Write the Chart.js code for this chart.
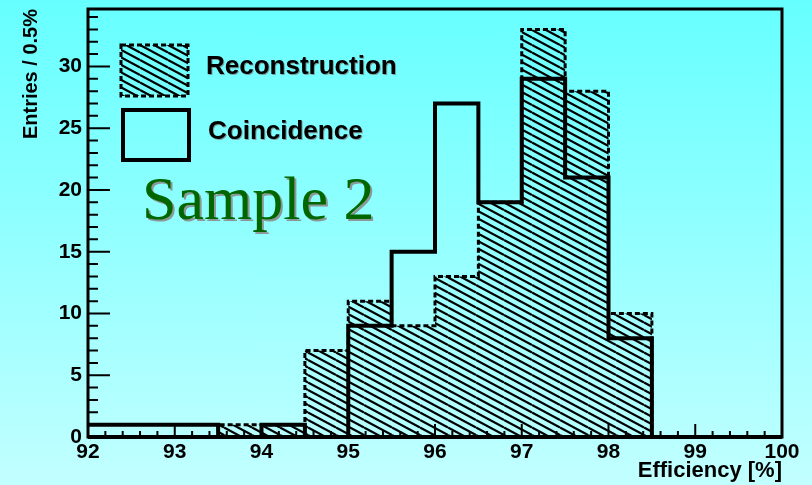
<!DOCTYPE html>
<html>
<head>
<meta charset="utf-8">
<script src="https://cdn.jsdelivr.net/npm/chart.js@4"></script>
<style>
  html, body { margin: 0; padding: 0; }
  body {
    width: 812px;
    height: 485px;
    overflow: hidden;
    background: linear-gradient(to bottom, #66ffff, #c2ffff);
  }
  canvas { display: block; }
</style>
</head>
<body>
<canvas id="effChart" width="812" height="485"></canvas>
<script>
// Efficiency distributions, 0.5% bins between 92% and 100%
const binLowEdges = [92, 92.5, 93, 93.5, 94, 94.5, 95, 95.5, 96, 96.5, 97, 97.5, 98, 98.5, 99, 99.5];
const binUpperEdge = 100;
const reconstructionCounts = [0, 0, 0, 1, 1, 7, 11, 9, 13, 19, 33, 28, 10, 0, 0, 0];
const coincidenceCounts    = [1, 1, 1, 0, 1, 0, 9, 15, 27, 19, 29, 21, 8, 0, 0, 0];
const seriesNames = ['Reconstruction', 'Coincidence'];
const yMax = 34.65;

const FONT = '"Liberation Sans", Arial, Helvetica, sans-serif';

// histogram outline as step points: one per lower edge plus the closing edge
function stepPoints(counts) {
  const pts = binLowEdges.map((x, i) => ({ x: x, y: counts[i] }));
  pts.push({ x: binUpperEdge, y: counts[counts.length - 1] });
  return pts;
}

// ROOT-like "\\\\" hatch
function makeHatch() {
  const w = 28, h = 15;
  const c = document.createElement('canvas');
  c.width = w;
  c.height = h;
  const g = c.getContext('2d');
  g.strokeStyle = '#000';
  g.lineWidth = 2.2;
  for (let off = -h; off <= h; off += h / 2) {
    g.beginPath();
    g.moveTo(0, off);
    g.lineTo(w, off + h);
    g.stroke();
  }
  return g.createPattern(c, 'repeat');
}

const canvas = document.getElementById('effChart');
const hatch = makeHatch();

// frame plus inward ticks, ROOT style
const frameAndTicks = {
  id: 'frameAndTicks',
  afterDatasetsDraw(chart) {
    const { ctx, chartArea: a, scales: { x, y } } = chart;
    ctx.save();
    ctx.strokeStyle = '#000';
    ctx.lineWidth = 3;
    ctx.strokeRect(a.left, a.top, a.right - a.left, a.bottom - a.top);
    ctx.lineWidth = 4;
    ctx.beginPath();
    ctx.moveTo(a.left, a.bottom);
    ctx.lineTo(a.right, a.bottom);
    ctx.stroke();

    ctx.lineWidth = 2;
    ctx.beginPath();
    for (let i = 0; i <= Math.floor(yMax); i++) {
      const py = y.getPixelForValue(i);
      const len = i % 5 === 0 ? 22 : 10;
      ctx.moveTo(a.left, py);
      ctx.lineTo(a.left + len, py);
    }
    for (let i = 0; i <= 40; i++) {
      const px = x.getPixelForValue(92 + i * 0.2);
      const len = i % 5 === 0 ? 13 : 6;
      ctx.moveTo(px, a.bottom);
      ctx.lineTo(px, a.bottom - len);
    }
    ctx.stroke();
    ctx.restore();
  }
};

// legend boxes and the sample caption
const legendAndLabel = {
  id: 'legendAndLabel',
  afterDraw(chart) {
    const { ctx, chartArea: a } = chart;
    const bx = a.left + 33, bw = 67, bh = 51;
    ctx.save();

    ctx.fillStyle = hatch;
    ctx.fillRect(bx, 45, bw, bh);
    ctx.strokeStyle = '#000';
    ctx.lineWidth = 3;
    ctx.setLineDash([5, 3]);
    ctx.strokeRect(bx, 45, bw, bh);
    ctx.setLineDash([]);
    ctx.lineWidth = 4;
    ctx.strokeRect(bx + 2, 110, bw - 1, bh - 1);

    ctx.font = 'bold 26px ' + FONT;
    ctx.textBaseline = 'middle';
    ctx.textAlign = 'left';
    ctx.shadowColor = 'rgba(120,120,120,0.7)';
    ctx.shadowOffsetX = 1;
    ctx.shadowOffsetY = 1;
    ctx.fillStyle = '#000';
    ctx.fillText(seriesNames[0], 206, 67);
    ctx.fillText(seriesNames[1], 208, 132);

    ctx.font = '62px "Liberation Serif", "Times New Roman", serif';
    ctx.textBaseline = 'alphabetic';
    ctx.shadowColor = 'rgba(140,140,140,0.9)';
    ctx.shadowOffsetX = 2;
    ctx.shadowOffsetY = 2;
    ctx.fillStyle = '#006600';
    ctx.fillText('Sample 2', 142, 219);
    ctx.restore();
  }
};

new Chart(canvas, {
  type: 'line',
  data: {
    datasets: [
      {
        label: seriesNames[1],
        data: stepPoints(coincidenceCounts),
        stepped: true,
        borderColor: '#000',
        borderWidth: 4,
        fill: false,
        pointRadius: 0
      },
      {
        label: seriesNames[0],
        data: stepPoints(reconstructionCounts),
        stepped: true,
        borderColor: '#000',
        borderWidth: 3,
        borderDash: [5, 3],
        backgroundColor: hatch,
        fill: 'origin',
        pointRadius: 0
      }
    ]
  },
  options: {
    responsive: false,
    animation: false,
    devicePixelRatio: 1,
    layout: { padding: { top: 9, right: 30, left: 0, bottom: 0 } },
    plugins: {
      legend: { display: false },
      tooltip: { enabled: false }
    },
    scales: {
      x: {
        type: 'linear',
        min: 92,
        max: 100,
        grid: { display: false, drawTicks: false },
        border: { display: false },
        ticks: {
          stepSize: 1,
          autoSkip: false,
          maxRotation: 0,
          includeBounds: false,
          padding: 3,
          color: '#000',
          font: { family: FONT, size: 21, weight: 'bold' }
        },
        title: {
          display: true,
          text: 'Efficiency [%]',
          align: 'end',
          color: '#000',
          padding: { top: 0, bottom: 1 },
          font: { family: FONT, size: 22, weight: 'bold' }
        },
        afterFit(s) {
          s.height = 48;
          s.paddingLeft = 0;
          s.paddingRight = 0;
        }
      },
      y: {
        min: 0,
        max: yMax,
        grid: { display: false, drawTicks: false },
        border: { display: false },
        ticks: {
          stepSize: 5,
          includeBounds: false,
          padding: 6,
          color: '#000',
          font: { family: FONT, size: 21, weight: 'bold' }
        },
        title: {
          display: true,
          text: 'Entries / 0.5%',
          align: 'end',
          color: '#000',
          padding: { top: 19, bottom: 0 },
          font: { family: FONT, size: 20, weight: 'bold' }
        },
        afterFit(s) {
          s.width = 88;
          s.paddingTop = 0;
          s.paddingBottom = 0;
        }
      }
    }
  },
  plugins: [frameAndTicks, legendAndLabel]
});
</script>
</body>
</html>
